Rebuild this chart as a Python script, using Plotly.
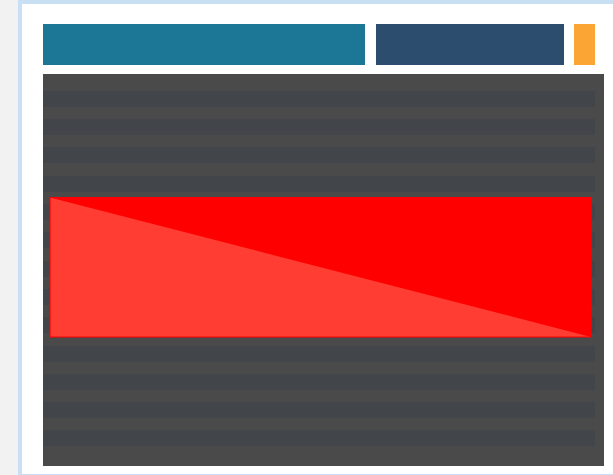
import plotly.graph_objects as go

# ---- data ----
# top segmented bar (start, length) in pixel-like units
seg_names = ["A", "B", "C"]
seg_start = [0, 333, 531]
seg_length = [322, 188, 21]
seg_colors = ["#1c7796", "#2d4d6f", "#fba535"]

# striped rows in main panel (row centre, row length)
row_centres = [25, 53, 81, 110, 138, 166, 195, 223, 251, 280, 308, 336, 364]
row_length = [552] * len(row_centres)
row_thickness = 16

# highlighted red block (corners)
block_x = [7, 548]
block_y = [123.5, 263]

W, H = 613, 475
L, R, T, B = 43, 9, 24, 9
pw, ph = W - L - R, H - T - B


def fx(px):
    return (px - L) / pw


def fy(py):
    return (H - B - py) / ph


fig = go.Figure()

# top segmented bar
fig.add_trace(go.Bar(
    x=seg_length, base=seg_start, y=[0, 0, 0], orientation="h",
    width=1, marker=dict(color=seg_colors, line=dict(width=0)),
    xaxis="x", yaxis="y", showlegend=False, hoverinfo="skip",
))

# stripes
fig.add_trace(go.Bar(
    x=row_length, base=[0] * len(row_centres), y=row_centres, orientation="h",
    width=row_thickness, marker=dict(color="#42464b", line=dict(width=0)),
    xaxis="x2", yaxis="y2", showlegend=False, hoverinfo="skip",
))

# red block (full rectangle)
x0, x1 = block_x
y0, y1 = block_y
fig.add_trace(go.Scatter(
    x=[x0, x1, x1, x0, x0], y=[y0, y0, y1, y1, y0], mode="lines",
    fill="toself", fillcolor="#ff0000", line=dict(color="#ff0000", width=0),
    xaxis="x2", yaxis="y2", showlegend=False, hoverinfo="skip",
))
# lighter lower-left triangle
fig.add_trace(go.Scatter(
    x=[x0, x1, x0, x0], y=[y0, y1, y1, y0], mode="lines",
    fill="toself", fillcolor="#ff3d33", line=dict(color="#ff3d33", width=0),
    xaxis="x2", yaxis="y2", showlegend=False, hoverinfo="skip",
))
# outline
fig.add_trace(go.Scatter(
    x=[x0, x1, x1, x0, x0], y=[y0, y0, y1, y1, y0], mode="lines",
    line=dict(color="#ff0000", width=1.2),
    xaxis="x2", yaxis="y2", showlegend=False, hoverinfo="skip",
))

top_h = 41
gap = 9
fig.update_layout(
    width=W, height=H,
    margin=dict(l=L, r=R, t=T, b=B, pad=0),
    paper_bgcolor="#f2f2f2",
    plot_bgcolor="rgba(0,0,0,0)",
    barmode="overlay",
    xaxis=dict(domain=[0, 1], range=[0, pw], visible=False, fixedrange=True),
    yaxis=dict(domain=[1 - top_h / ph, 1], range=[-0.5, 0.5], visible=False, fixedrange=True),
    xaxis2=dict(domain=[0, 1], range=[0, pw], visible=False, anchor="y2", fixedrange=True),
    yaxis2=dict(domain=[0, 1 - (top_h + gap) / ph], range=[392, 0], visible=False,
                anchor="x2", fixedrange=True),
    shapes=[
        dict(type="rect", xref="paper", yref="paper", layer="below",
             x0=fx(20), x1=fx(640), y0=fy(476), y1=fy(2),
             fillcolor="#ffffff", line=dict(color="#c9dff3", width=4)),
        dict(type="rect", xref="x2 domain", yref="y2 domain", layer="below",
             x0=0, x1=1, y0=0, y1=1, fillcolor="#4a4a4a", line=dict(width=0)),
    ],
    showlegend=False,
)

fig.write_html(
    "out.html",
    config={"displayModeBar": False},
    post_script="document.body.style.margin='0';document.body.style.overflow='hidden';",
)
